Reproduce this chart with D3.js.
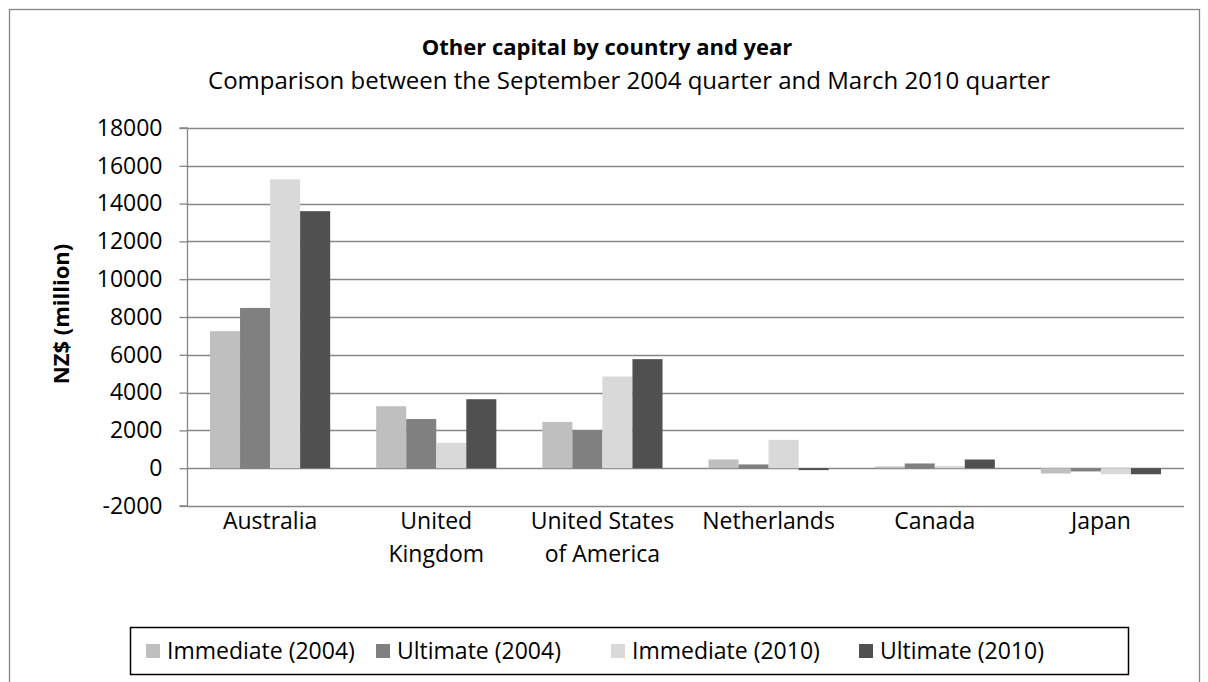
<!DOCTYPE html>
<html><head><meta charset="utf-8">
<script src="https://cdn.jsdelivr.net/npm/d3@7"></script>
<style>body{margin:0;background:#fff}svg{display:block}text{font-family:"Open Sans",sans-serif;fill:#000}</style>
</head><body><svg id="c" width="1208" height="682"></svg>
<script>
const categories = [["Australia"],["United","Kingdom"],["United States","of America"],["Netherlands"],["Canada"],["Japan"]];
const seriesNames = ["Immediate (2004)","Ultimate (2004)","Immediate (2010)","Ultimate (2010)"];
const immediate2004 = [7250, 3280, 2450, 460, 90, -280];
const ultimate2004  = [8480, 2600, 2010, 200, 250, -170];
const immediate2010 = [15280, 1340, 4850, 1500, 120, -320];
const ultimate2010  = [13600, 3650, 5770, -100, 460, -320];
const yTicks = [-2000,0,2000,4000,6000,8000,10000,12000,14000,16000,18000];
const colors = ["#bfbfbf","#808080","#d9d9d9","#505050"];

const series = [immediate2004, ultimate2004, immediate2010, ultimate2010];
const svg = d3.select("#c");
const L = 187, R = 1184, T = 128, B = 506;

svg.append("rect").attr("x",9.5).attr("y",9.5).attr("width",1190).attr("height",700)
  .attr("fill","#fff").attr("stroke","#868686").attr("stroke-width",1.3);

const y = d3.scaleLinear().domain([-2000,18000]).range([B,T]);
const x = d3.scaleBand().domain(d3.range(categories.length)).range([L,R]).padding(0);
const xs = d3.scaleBand().domain(d3.range(series.length)).range([23, x.bandwidth()-23]).padding(0);

// gridlines
svg.append("g").selectAll("line").data(yTicks).join("line")
  .attr("x1",L).attr("x2",R).attr("y1",d=>Math.round(y(d))+0.5).attr("y2",d=>Math.round(y(d))+0.5)
  .attr("stroke","#868686").attr("stroke-width",1.3);

// bars
series.forEach((vals,si)=>{
  svg.append("g").selectAll("rect").data(vals).join("rect")
    .attr("x",(d,i)=>x(i)+xs(si))
    .attr("width",xs.bandwidth())
    .attr("y",d=>y(Math.max(0,d)))
    .attr("height",d=>Math.abs(y(d)-y(0)))
    .attr("fill",colors[si]);
});

// y axis
const ya = svg.append("g").attr("transform",`translate(${L+0.5},0)`)
  .call(d3.axisLeft(y).tickValues(yTicks).tickSize(8).tickPadding(17).tickFormat(d=>String(d)));
ya.select(".domain").attr("stroke","#868686").attr("stroke-width",1.3).attr("d",`M-8,${T}H0V${B}H-8`);
ya.selectAll(".tick line").attr("stroke","#868686").attr("stroke-width",1.3);
ya.selectAll(".tick text").attr("font-size",23).attr("font-family","Open Sans").attr("fill","#000");

// x labels
const xl = svg.append("g").selectAll("text").data(categories).join("text")
  .attr("text-anchor","middle").attr("font-size",23)
  .attr("x",(d,i)=>x(i)+x.bandwidth()/2).attr("y",529);
xl.selectAll("tspan").data(d=>d).join("tspan")
  .attr("x",function(){return d3.select(this.parentNode).attr("x");})
  .attr("dy",(d,i)=>i===0?0:33).text(d=>d);

// titles
svg.append("text").attr("x",607).attr("y",55).attr("text-anchor","middle")
  .attr("font-size",22).attr("font-weight","bold").text("Other capital by country and year");
svg.append("text").attr("x",629).attr("y",89).attr("text-anchor","middle")
  .attr("font-size",24).text("Comparison between the September 2004 quarter and March 2010 quarter");
svg.append("text").attr("transform","translate(69,314) rotate(-90)").attr("text-anchor","middle")
  .attr("font-size",22).attr("font-weight","bold").text("NZ$ (million)");

// legend
svg.append("rect").attr("x",130.5).attr("y",627.5).attr("width",998).attr("height",47)
  .attr("fill","#fff").attr("stroke","#000").attr("stroke-width",1.5);
const lx = [146, 376, 611, 859];
const lg = svg.append("g").selectAll("g").data(seriesNames).join("g")
  .attr("transform",(d,i)=>`translate(${lx[i]},651)`);
lg.append("rect").attr("x",0).attr("y",-7).attr("width",14).attr("height",14).attr("fill",(d,i)=>colors[i]);
lg.append("text").attr("x",21).attr("y",8).attr("font-size",23).text(d=>d);
</script></body></html>
